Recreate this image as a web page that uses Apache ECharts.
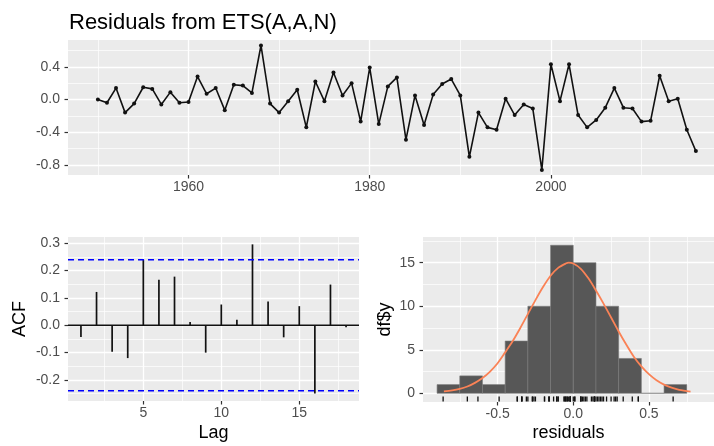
<!DOCTYPE html>
<html>
<head>
<meta charset="utf-8">
<script src="https://cdn.jsdelivr.net/npm/echarts@6/dist/echarts.min.js"></script>
<style>html,body{margin:0;padding:0;background:#fff}#c{width:714px;height:446px}</style>
</head>
<body>
<div id="c"></div>
<script>
// ---- data ----
const years = [1950,1951,1952,1953,1954,1955,1956,1957,1958,1959,1960,1961,1962,1963,1964,1965,1966,1967,1968,1969,1970,1971,1972,1973,1974,1975,1976,1977,1978,1979,1980,1981,1982,1983,1984,1985,1986,1987,1988,1989,1990,1991,1992,1993,1994,1995,1996,1997,1998,1999,2000,2001,2002,2003,2004,2005,2006,2007,2008,2009,2010,2011,2012,2013,2014,2015,2016];
const residuals = [0.00,-0.04,0.14,-0.16,-0.05,0.15,0.13,-0.06,0.09,-0.04,-0.03,0.28,0.07,0.14,-0.13,0.18,0.17,0.08,0.66,-0.05,-0.16,-0.02,0.12,-0.34,0.22,-0.02,0.33,0.05,0.20,-0.27,0.39,-0.30,0.16,0.27,-0.49,0.05,-0.31,0.06,0.19,0.25,0.05,-0.70,-0.16,-0.34,-0.37,0.01,-0.19,-0.06,-0.11,-0.86,0.43,-0.02,0.43,-0.19,-0.34,-0.25,-0.10,0.14,-0.10,-0.11,-0.27,-0.26,0.29,-0.02,0.01,-0.37,-0.63];
const lags = [1,2,3,4,5,6,7,8,9,10,11,12,13,14,15,16,17,18];
const acf = [-0.043,0.122,-0.097,-0.12,0.24,0.167,0.178,0.012,-0.10,0.076,0.02,0.296,0.087,-0.044,0.07,-0.25,0.149,-0.007];
const acfLimits = [0.2395, -0.2395];
const binEdges = [-0.9,-0.75,-0.6,-0.45,-0.3,-0.15,0,0.15,0.3,0.45,0.6,0.75];
const binCounts = [1,2,1,6,10,17,15,10,4,0,1];
const curveX = [-0.855,-0.8,-0.75,-0.7,-0.65,-0.6,-0.55,-0.5,-0.45,-0.4,-0.35,-0.3,-0.25,-0.2,-0.15,-0.1,-0.05,-0.03,0,0.05,0.1,0.15,0.2,0.25,0.3,0.35,0.4,0.45,0.5,0.55,0.6,0.65,0.7,0.775];
const curveY = [0.22,0.33,0.5,0.78,1.2,1.75,2.5,3.45,4.7,6.0,7.5,9.1,10.7,12.2,13.5,14.4,14.9,15.0,14.9,14.3,13.2,11.8,10.3,8.7,7.1,5.6,4.2,3.1,2.2,1.5,1.0,0.65,0.4,0.2];
const topYTicks = [-0.8,-0.4,0,0.4];
const topYMinor = [-0.6,-0.2,0.2,0.6];
const topXTicks = [1960,1980,2000];
const topXMinor = [1950,1970,1990,2010];
const acfXTicks = [5,10,15];
const acfXMinor = [2.5,7.5,12.5,17.5];
const acfYTicks = [-0.2,-0.1,0,0.1,0.2,0.3];
const acfYMinor = [-0.25,-0.15,-0.05,0.05,0.15,0.25];
const histXTicks = [-0.5,0,0.5];
const histXMinor = [-0.75,-0.25,0.25,0.75];
const histYTicks = [0,5,10,15];
const histYMinor = [2.5,7.5,12.5,17.5];

// ---- chart ----
const FONT = '"Liberation Sans", Arial, sans-serif';
const PANEL = '#EBEBEB';
const nameStyle = {fontFamily: FONT, fontSize: 18, color: '#000'};
function majorAxis(gi, min, max, ticks, fmt, margin, extra) {
  return Object.assign({
    type: 'value', gridIndex: gi, min: min, max: max,
    axisLine: {show: false, onZero: false},
    axisTick: {show: true, length: 3.5, lineStyle: {color: '#333', width: 1.2}, customValues: ticks},
    axisLabel: {show: true, customValues: ticks, color: '#4D4D4D', fontSize: 14, fontFamily: FONT, margin: margin, formatter: fmt},
    splitLine: {show: true, lineStyle: {color: '#fff', width: 1.3}},
    minorSplitLine: {show: false}
  }, extra || {});
}
function minorAxis(gi, min, max, ticks) {
  return {
    type: 'value', gridIndex: gi, min: min, max: max,
    axisLine: {show: false, onZero: false},
    axisTick: {show: false, customValues: ticks},
    axisLabel: {show: false, customValues: ticks},
    splitLine: {show: true, lineStyle: {color: '#fff', width: 0.7}}
  };
}
const f1 = v => v.toFixed(1);
const f0 = v => String(v);

const histData = binCounts.map((c, i) => [binEdges[i], binEdges[i+1], c]);

function hLine(color, dash, w) {
  return function (params, api) {
    const cs = params.coordSys;
    const y = api.coord([0, api.value(0)])[1];
    return {type: 'line', shape: {x1: cs.x, y1: y, x2: cs.x + cs.width, y2: y},
      style: {stroke: color, lineWidth: w, lineDash: dash}};
  };
}

const option = {
  animation: false,
  backgroundColor: '#fff',
  title: {text: 'Residuals from ETS(A,A,N)', left: 64, top: 7,
    textStyle: {fontFamily: FONT, fontSize: 22, fontWeight: 'normal', color: '#000'}},
  grid: [
    {left: 68, top: 40, width: 646, height: 135, show: true, backgroundColor: PANEL, borderWidth: 0},
    {left: 68, top: 237, width: 291, height: 164, show: true, backgroundColor: PANEL, borderWidth: 0},
    {left: 423, top: 237, width: 291, height: 165, show: true, backgroundColor: PANEL, borderWidth: 0}
  ],
  xAxis: [
    majorAxis(0, 1946.7, 2018, topXTicks, f0, 5),
    majorAxis(1, 0.17, 18.83, acfXTicks, f0, 5, {name: 'Lag', nameLocation: 'middle', nameGap: 23, nameTextStyle: nameStyle}),
    majorAxis(2, -0.993, 0.93, histXTicks, f1, 5, {name: 'residuals', nameLocation: 'middle', nameGap: 22, nameTextStyle: nameStyle}),
    minorAxis(0, 1946.7, 2018, topXMinor),
    minorAxis(1, 0.17, 18.83, acfXMinor),
    minorAxis(2, -0.993, 0.93, histXMinor)
  ],
  yAxis: [
    majorAxis(0, -0.922, 0.727, topYTicks, f1, 8),
    majorAxis(1, -0.277, 0.323, acfYTicks, f1, 8, {name: 'ACF', nameLocation: 'middle', nameGap: 39, nameTextStyle: nameStyle}),
    majorAxis(2, -1.0, 17.95, histYTicks, f0, 8, {name: 'df$y', nameLocation: 'middle', nameGap: 29, nameTextStyle: nameStyle}),
    minorAxis(0, -0.922, 0.727, topYMinor),
    minorAxis(1, -0.277, 0.323, acfYMinor),
    minorAxis(2, -1.0, 17.95, histYMinor)
  ],
  series: [
    {
      type: 'line', xAxisIndex: 0, yAxisIndex: 0,
      data: years.map((y, i) => [y, residuals[i]]),
      symbol: 'circle', symbolSize: 4, showSymbol: true,
      lineStyle: {color: '#111', width: 1.6}, itemStyle: {color: '#111'}
    },
    {
      type: 'custom', xAxisIndex: 1, yAxisIndex: 1,
      data: [[0]],
      renderItem: hLine('#111', null, 1.6)
    },
    {
      type: 'custom', xAxisIndex: 1, yAxisIndex: 1,
      data: lags.map((l, i) => [l, acf[i]]),
      renderItem: function (params, api) {
        const p0 = api.coord([api.value(0), 0]);
        const p1 = api.coord([api.value(0), api.value(1)]);
        return {type: 'line', shape: {x1: p0[0], y1: p0[1], x2: p1[0], y2: p1[1]},
          style: {stroke: '#111', lineWidth: 1.7}};
      }
    },
    {
      type: 'custom', xAxisIndex: 1, yAxisIndex: 1,
      data: acfLimits.map(v => [v]),
      renderItem: hLine('#0000FF', [6, 4], 1.5)
    },
    {
      type: 'custom', xAxisIndex: 2, yAxisIndex: 2,
      data: histData,
      renderItem: function (params, api) {
        const a = api.coord([api.value(0), api.value(2)]);
        const b = api.coord([api.value(1), 0]);
        return {type: 'rect', shape: {x: a[0], y: a[1], width: b[0] - a[0], height: b[1] - a[1]},
          style: {fill: '#575757', stroke: '#7a7a7a', lineWidth: 0.6}};
      }
    },
    {
      type: 'line', xAxisIndex: 2, yAxisIndex: 2,
      data: curveX.map((x, i) => [x, curveY[i]]),
      smooth: 0.3, showSymbol: false, symbol: 'none',
      lineStyle: {color: '#FA8256', width: 1.8}
    },
    {
      type: 'custom', xAxisIndex: 2, yAxisIndex: 2,
      data: residuals.map(v => [v]),
      renderItem: function (params, api) {
        const cs = params.coordSys;
        const x = api.coord([api.value(0), 0])[0];
        const yb = cs.y + cs.height;
        return {type: 'line', shape: {x1: x, y1: yb - 5.5, x2: x, y2: yb - 0.5},
          style: {stroke: '#111', lineWidth: 1.3}};
      }
    }
  ]
};
const chart = echarts.init(document.getElementById('c'), null, {renderer: 'canvas'});
chart.setOption(option);
</script>
</body>
</html>
